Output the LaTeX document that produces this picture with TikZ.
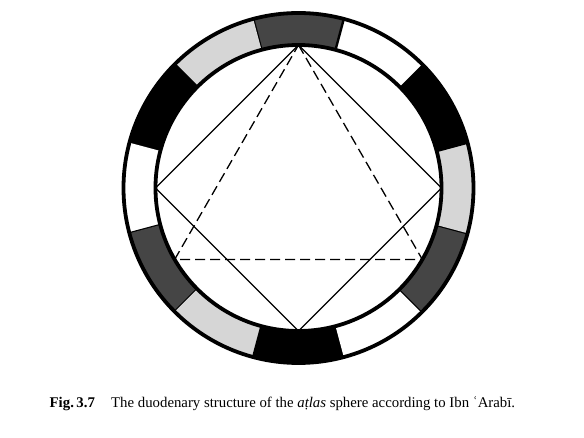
\documentclass[tikz,border=0pt]{standalone}
\usepackage{fontspec}
\setmainfont{Liberation Serif}
\definecolor{segdark}{gray}{0.27}
\definecolor{seglight}{gray}{0.84}
\begin{document}
\begin{tikzpicture}[x=1pt,y=1pt,
    ring/.style={line width=3.8pt},
    segsep/.style={line width=2.4pt},
    chord/.style={line width=1.3pt},
    dashchord/.style={chord, dash pattern=on 10pt off 5pt}]
  \useasboundingbox[fill=white] (-298.5,-250) rectangle (285.5,188);
  \def\rout{175}
  \def\rin{143}
  % the twelve parts of the ring
  \foreach \a/\c in {90/segdark,120/seglight,150/black,180/white,
                     210/segdark,240/seglight,270/black,300/white,
                     330/segdark,0/seglight,30/black,60/white}{
    \fill[\c] (\a-15:\rin) arc[start angle=\a-15, end angle=\a+15, radius=\rin]
      -- (\a+15:\rout) arc[start angle=\a+15, end angle=\a-15, radius=\rout] -- cycle;
    \draw[segsep] (\a+15:\rin) -- (\a+15:\rout);
  }
  \draw[ring] (0,0) circle[radius=\rout];
  \draw[ring] (0,0) circle[radius=\rin];
  % corners on the inner circle
  \coordinate (top) at (90:\rin);
  \coordinate (left) at (180:\rin);
  \coordinate (bottom) at (270:\rin);
  \coordinate (right) at (0:\rin);
  \coordinate (lowleft) at (210:\rin);
  \coordinate (lowright) at (330:\rin);
  \draw[chord] (top) -- (right) -- (bottom) -- (left) -- cycle;
  \draw[dashchord] (top) -- (lowright) -- (lowleft) -- cycle;
  % caption
  \node[anchor=base west, inner sep=0pt, font=\fontsize{14.8}{18}\selectfont] (caption) at (-249,-220)
    {\textbf{Fig.\,3.7}\hspace{1.1em}The duodenary structure of the \textit{aṭlas} sphere according to Ibn ʿArabī.};
\end{tikzpicture}
\end{document}
